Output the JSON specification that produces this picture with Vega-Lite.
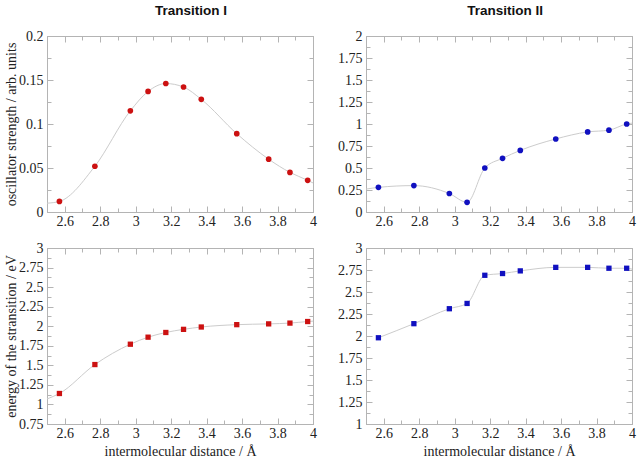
{
  "$schema": "https://vega.github.io/schema/vega-lite/v6.json",
  "padding": {"left": 4, "right": 3, "top": 3, "bottom": 0},
  "background": "white",
  "data": {"values": [
    {"p": "A", "t": "ext", "x": 2.5, "y": 0.010},
    {"p": "A", "t": "pt", "x": 2.57, "y": 0.012},
    {"p": "A", "t": "pt", "x": 2.77, "y": 0.052},
    {"p": "A", "t": "pt", "x": 2.97, "y": 0.115},
    {"p": "A", "t": "pt", "x": 3.07, "y": 0.137},
    {"p": "A", "t": "pt", "x": 3.17, "y": 0.146},
    {"p": "A", "t": "pt", "x": 3.27, "y": 0.142},
    {"p": "A", "t": "pt", "x": 3.37, "y": 0.128},
    {"p": "A", "t": "pt", "x": 3.57, "y": 0.089},
    {"p": "A", "t": "pt", "x": 3.75, "y": 0.060},
    {"p": "A", "t": "pt", "x": 3.87, "y": 0.045},
    {"p": "A", "t": "pt", "x": 3.97, "y": 0.036},
    {"p": "A", "t": "ext", "x": 4.0, "y": 0.033},
    {"p": "B", "t": "ext", "x": 2.5, "y": 0.26},
    {"p": "B", "t": "pt", "x": 2.57, "y": 0.28},
    {"p": "B", "t": "pt", "x": 2.77, "y": 0.30},
    {"p": "B", "t": "pt", "x": 2.97, "y": 0.21},
    {"p": "B", "t": "pt", "x": 3.07, "y": 0.11},
    {"p": "B", "t": "pt", "x": 3.17, "y": 0.50},
    {"p": "B", "t": "pt", "x": 3.27, "y": 0.61},
    {"p": "B", "t": "pt", "x": 3.37, "y": 0.70},
    {"p": "B", "t": "pt", "x": 3.57, "y": 0.83},
    {"p": "B", "t": "pt", "x": 3.75, "y": 0.91},
    {"p": "B", "t": "pt", "x": 3.87, "y": 0.93},
    {"p": "B", "t": "pt", "x": 3.97, "y": 1.00},
    {"p": "B", "t": "ext", "x": 4.0, "y": 1.01},
    {"p": "C", "t": "ext", "x": 2.5, "y": 1.07},
    {"p": "C", "t": "pt", "x": 2.57, "y": 1.14},
    {"p": "C", "t": "pt", "x": 2.77, "y": 1.51},
    {"p": "C", "t": "pt", "x": 2.97, "y": 1.77},
    {"p": "C", "t": "pt", "x": 3.07, "y": 1.86},
    {"p": "C", "t": "pt", "x": 3.17, "y": 1.92},
    {"p": "C", "t": "pt", "x": 3.27, "y": 1.96},
    {"p": "C", "t": "pt", "x": 3.37, "y": 1.99},
    {"p": "C", "t": "pt", "x": 3.57, "y": 2.02},
    {"p": "C", "t": "pt", "x": 3.75, "y": 2.03},
    {"p": "C", "t": "pt", "x": 3.87, "y": 2.04},
    {"p": "C", "t": "pt", "x": 3.97, "y": 2.06},
    {"p": "C", "t": "ext", "x": 4.0, "y": 2.065},
    {"p": "D", "t": "pt", "x": 2.57, "y": 1.98},
    {"p": "D", "t": "pt", "x": 2.77, "y": 2.14},
    {"p": "D", "t": "pt", "x": 2.97, "y": 2.31},
    {"p": "D", "t": "pt", "x": 3.07, "y": 2.37},
    {"p": "D", "t": "pt", "x": 3.17, "y": 2.69},
    {"p": "D", "t": "pt", "x": 3.27, "y": 2.71},
    {"p": "D", "t": "pt", "x": 3.37, "y": 2.74},
    {"p": "D", "t": "pt", "x": 3.57, "y": 2.78},
    {"p": "D", "t": "pt", "x": 3.75, "y": 2.78},
    {"p": "D", "t": "pt", "x": 3.87, "y": 2.77},
    {"p": "D", "t": "pt", "x": 3.97, "y": 2.77},
    {"p": "D", "t": "ext", "x": 4.0, "y": 2.76}
  ]},
  "config": {
    "view": {"stroke": "#b4b4b4"},
    "axis": {
      "grid": false,
      "labelFont": "Liberation Serif",
      "labelFontSize": 14,
      "labelColor": "#222222",
      "titleFont": "Liberation Serif",
      "titleFontSize": 14,
      "titleFontWeight": "normal",
      "titleColor": "#222222",
      "domainColor": "#b4b4b4",
      "tickColor": "#b4b4b4",
      "tickWidth": 1,
      "labelFlush": false,
      "labelOverlap": false,
      "labelBound": false
    },
    "axisX": {"labelPadding": 8},
    "axisY": {"labelPadding": 10},
    "title": {"font": "Liberation Sans", "fontSize": 13.5, "fontWeight": "bold", "color": "#111111", "offset": 12, "frame": "group"}
  },
  "columns": 2,
  "spacing": {"row": 9, "column": 20},
  "concat": [
    {
      "width": 266, "height": 176,
      "title": {"text": "Transition I", "dx": 11},
      "transform": [{"filter": "datum.p == 'A'"}],
      "layer": [
        {
          "mark": {"type": "line", "interpolate": "monotone", "color": "#cccccc", "strokeWidth": 1, "clip": true},
          "encoding": {
            "x": {"field": "x", "type": "quantitative", "scale": {"domain": [2.5, 4], "nice": false, "zero": false},
              "axis": {"title": null, "labelOverlap": false, "values": [2.5,2.6,2.7,2.8,2.9,3.0,3.1,3.2,3.3,3.4,3.5,3.6,3.7,3.8,3.9,4.0],
                "labelExpr": "abs(datum.value*5 - round(datum.value*5)) < 0.001 ? format(datum.value, '~g') : ''",
                "tickSize": {"condition": {"test": "abs(datum.value*5 - round(datum.value*5)) < 0.001", "value": -6}, "value": -4}}},
            "y": {"field": "y", "type": "quantitative", "scale": {"domain": [0, 0.2], "nice": false},
              "axis": {"title": "oscillator strength / arb. units", "titlePadding": 0, "labelOverlap": false,
                "values": [0,0.025,0.05,0.075,0.1,0.125,0.15,0.175,0.2],
                "labelExpr": "abs(datum.value*20 - round(datum.value*20)) < 0.001 ? format(datum.value, '~g') : ''",
                "tickSize": {"condition": {"test": "abs(datum.value*20 - round(datum.value*20)) < 0.001", "value": -6}, "value": -4}}}
          }
        },
        {
          "transform": [{"filter": "datum.t == 'pt'"}],
          "mark": {"type": "point", "shape": "circle", "filled": true, "size": 32, "color": "#cc1111", "opacity": 1},
          "encoding": {
            "x": {"field": "x", "type": "quantitative", "axis": null},
            "y": {"field": "y", "type": "quantitative", "axis": null}
          }
        },
        {
          "mark": {"type": "point", "opacity": 0},
          "encoding": {
            "x": {"field": "x", "type": "quantitative",
              "axis": {"orient": "top", "title": null, "labels": false, "values": [2.5,2.6,2.7,2.8,2.9,3.0,3.1,3.2,3.3,3.4,3.5,3.6,3.7,3.8,3.9,4.0],
                "tickSize": {"condition": {"test": "abs(datum.value*5 - round(datum.value*5)) < 0.001", "value": -6}, "value": -4}}},
            "y": {"field": "y", "type": "quantitative",
              "axis": {"orient": "right", "title": null, "labels": false, "values": [0,0.025,0.05,0.075,0.1,0.125,0.15,0.175,0.2],
                "tickSize": {"condition": {"test": "abs(datum.value*20 - round(datum.value*20)) < 0.001", "value": -6}, "value": -4}}}
          }
        }
      ],
      "resolve": {"axis": {"x": "independent", "y": "independent"}}
    },
    {
      "width": 266, "height": 176,
      "title": {"text": "Transition II", "dx": 6},
      "transform": [{"filter": "datum.p == 'B'"}],
      "layer": [
        {
          "mark": {"type": "line", "interpolate": "monotone", "color": "#cccccc", "strokeWidth": 1, "clip": true},
          "encoding": {
            "x": {"field": "x", "type": "quantitative", "scale": {"domain": [2.5, 4], "nice": false, "zero": false},
              "axis": {"title": null, "labelOverlap": false, "values": [2.5,2.6,2.7,2.8,2.9,3.0,3.1,3.2,3.3,3.4,3.5,3.6,3.7,3.8,3.9,4.0],
                "labelExpr": "abs(datum.value*5 - round(datum.value*5)) < 0.001 ? format(datum.value, '~g') : ''",
                "tickSize": {"condition": {"test": "abs(datum.value*5 - round(datum.value*5)) < 0.001", "value": -6}, "value": -4}}},
            "y": {"field": "y", "type": "quantitative", "scale": {"domain": [0, 2], "nice": false},
              "axis": {"title": null, "labelOverlap": false,
                "values": [0,0.125,0.25,0.375,0.5,0.625,0.75,0.875,1,1.125,1.25,1.375,1.5,1.625,1.75,1.875,2],
                "labelExpr": "abs(datum.value*4 - round(datum.value*4)) < 0.001 ? format(datum.value, '~g') : ''",
                "tickSize": {"condition": {"test": "abs(datum.value*4 - round(datum.value*4)) < 0.001", "value": -6}, "value": -4}}}
          }
        },
        {
          "transform": [{"filter": "datum.t == 'pt'"}],
          "mark": {"type": "point", "shape": "circle", "filled": true, "size": 32, "color": "#1010c0", "opacity": 1},
          "encoding": {
            "x": {"field": "x", "type": "quantitative", "axis": null},
            "y": {"field": "y", "type": "quantitative", "axis": null}
          }
        },
        {
          "mark": {"type": "point", "opacity": 0},
          "encoding": {
            "x": {"field": "x", "type": "quantitative",
              "axis": {"orient": "top", "title": null, "labels": false, "values": [2.5,2.6,2.7,2.8,2.9,3.0,3.1,3.2,3.3,3.4,3.5,3.6,3.7,3.8,3.9,4.0],
                "tickSize": {"condition": {"test": "abs(datum.value*5 - round(datum.value*5)) < 0.001", "value": -6}, "value": -4}}},
            "y": {"field": "y", "type": "quantitative",
              "axis": {"orient": "right", "title": null, "labels": false, "values": [0,0.125,0.25,0.375,0.5,0.625,0.75,0.875,1,1.125,1.25,1.375,1.5,1.625,1.75,1.875,2],
                "tickSize": {"condition": {"test": "abs(datum.value*4 - round(datum.value*4)) < 0.001", "value": -6}, "value": -4}}}
          }
        }
      ],
      "resolve": {"axis": {"x": "independent", "y": "independent"}}
    },
    {
      "width": 266, "height": 176,
      "transform": [{"filter": "datum.p == 'C'"}],
      "layer": [
        {
          "mark": {"type": "line", "interpolate": "monotone", "color": "#cccccc", "strokeWidth": 1, "clip": true},
          "encoding": {
            "x": {"field": "x", "type": "quantitative", "scale": {"domain": [2.5, 4], "nice": false, "zero": false},
              "axis": {"title": "intermolecular distance / Å", "titlePadding": 2, "labelOverlap": false, "values": [2.5,2.6,2.7,2.8,2.9,3.0,3.1,3.2,3.3,3.4,3.5,3.6,3.7,3.8,3.9,4.0],
                "labelExpr": "abs(datum.value*5 - round(datum.value*5)) < 0.001 ? format(datum.value, '~g') : ''",
                "tickSize": {"condition": {"test": "abs(datum.value*5 - round(datum.value*5)) < 0.001", "value": -6}, "value": -4}}},
            "y": {"field": "y", "type": "quantitative", "scale": {"domain": [0.75, 3], "nice": false, "zero": false},
              "axis": {"title": "energy of the stransition / eV", "titlePadding": 0, "labelOverlap": false,
                "values": [0.75,0.875,1,1.125,1.25,1.375,1.5,1.625,1.75,1.875,2,2.125,2.25,2.375,2.5,2.625,2.75,2.875,3],
                "labelExpr": "abs(datum.value*4 - round(datum.value*4)) < 0.001 ? format(datum.value, '~g') : ''",
                "tickSize": {"condition": {"test": "abs(datum.value*4 - round(datum.value*4)) < 0.001", "value": -6}, "value": -4}}}
          }
        },
        {
          "transform": [{"filter": "datum.t == 'pt'"}],
          "mark": {"type": "square", "filled": true, "size": 28, "color": "#cc1111", "opacity": 1},
          "encoding": {
            "x": {"field": "x", "type": "quantitative", "axis": null},
            "y": {"field": "y", "type": "quantitative", "axis": null}
          }
        },
        {
          "mark": {"type": "point", "opacity": 0},
          "encoding": {
            "x": {"field": "x", "type": "quantitative",
              "axis": {"orient": "top", "title": null, "labels": false, "values": [2.5,2.6,2.7,2.8,2.9,3.0,3.1,3.2,3.3,3.4,3.5,3.6,3.7,3.8,3.9,4.0],
                "tickSize": {"condition": {"test": "abs(datum.value*5 - round(datum.value*5)) < 0.001", "value": -6}, "value": -4}}},
            "y": {"field": "y", "type": "quantitative",
              "axis": {"orient": "right", "title": null, "labels": false, "values": [0.75,0.875,1,1.125,1.25,1.375,1.5,1.625,1.75,1.875,2,2.125,2.25,2.375,2.5,2.625,2.75,2.875,3],
                "tickSize": {"condition": {"test": "abs(datum.value*4 - round(datum.value*4)) < 0.001", "value": -6}, "value": -4}}}
          }
        }
      ],
      "resolve": {"axis": {"x": "independent", "y": "independent"}}
    },
    {
      "width": 266, "height": 176,
      "transform": [{"filter": "datum.p == 'D'"}],
      "layer": [
        {
          "mark": {"type": "line", "interpolate": "monotone", "color": "#cccccc", "strokeWidth": 1, "clip": true},
          "encoding": {
            "x": {"field": "x", "type": "quantitative", "scale": {"domain": [2.5, 4], "nice": false, "zero": false},
              "axis": {"title": "intermolecular distance / Å", "titlePadding": 2, "labelOverlap": false, "values": [2.5,2.6,2.7,2.8,2.9,3.0,3.1,3.2,3.3,3.4,3.5,3.6,3.7,3.8,3.9,4.0],
                "labelExpr": "abs(datum.value*5 - round(datum.value*5)) < 0.001 ? format(datum.value, '~g') : ''",
                "tickSize": {"condition": {"test": "abs(datum.value*5 - round(datum.value*5)) < 0.001", "value": -6}, "value": -4}}},
            "y": {"field": "y", "type": "quantitative", "scale": {"domain": [1, 3], "nice": false, "zero": false},
              "axis": {"title": null, "labelOverlap": false,
                "values": [1,1.125,1.25,1.375,1.5,1.625,1.75,1.875,2,2.125,2.25,2.375,2.5,2.625,2.75,2.875,3],
                "labelExpr": "abs(datum.value*4 - round(datum.value*4)) < 0.001 ? format(datum.value, '~g') : ''",
                "tickSize": {"condition": {"test": "abs(datum.value*4 - round(datum.value*4)) < 0.001", "value": -6}, "value": -4}}}
          }
        },
        {
          "transform": [{"filter": "datum.t == 'pt'"}],
          "mark": {"type": "square", "filled": true, "size": 28, "color": "#1010c0", "opacity": 1},
          "encoding": {
            "x": {"field": "x", "type": "quantitative", "axis": null},
            "y": {"field": "y", "type": "quantitative", "axis": null}
          }
        },
        {
          "mark": {"type": "point", "opacity": 0},
          "encoding": {
            "x": {"field": "x", "type": "quantitative",
              "axis": {"orient": "top", "title": null, "labels": false, "values": [2.5,2.6,2.7,2.8,2.9,3.0,3.1,3.2,3.3,3.4,3.5,3.6,3.7,3.8,3.9,4.0],
                "tickSize": {"condition": {"test": "abs(datum.value*5 - round(datum.value*5)) < 0.001", "value": -6}, "value": -4}}},
            "y": {"field": "y", "type": "quantitative",
              "axis": {"orient": "right", "title": null, "labels": false, "values": [1,1.125,1.25,1.375,1.5,1.625,1.75,1.875,2,2.125,2.25,2.375,2.5,2.625,2.75,2.875,3],
                "tickSize": {"condition": {"test": "abs(datum.value*4 - round(datum.value*4)) < 0.001", "value": -6}, "value": -4}}}
          }
        }
      ],
      "resolve": {"axis": {"x": "independent", "y": "independent"}}
    }
  ]
}
